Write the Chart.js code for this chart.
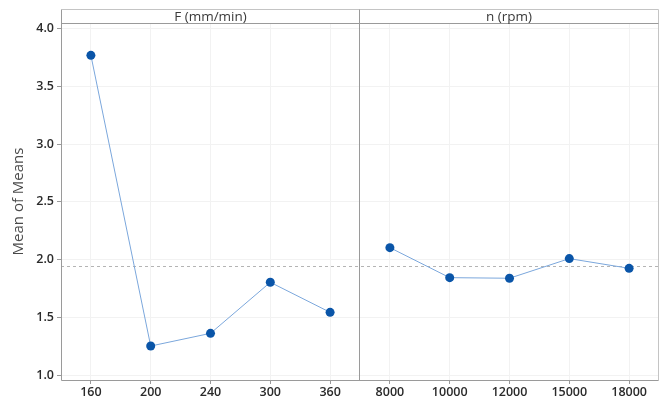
<!DOCTYPE html>
<html>
<head>
<meta charset="utf-8">
<script src="https://cdn.jsdelivr.net/npm/chart.js@4.4.1/dist/chart.umd.min.js"></script>
<style>
  html, body { margin: 0; padding: 0; background: #fff; }
  #wrap { width: 665px; height: 401px; }
</style>
</head>
<body>
<div id="wrap"><canvas id="chart" width="665" height="401"></canvas></div>
<script>
// factor levels, one panel each
const feedLevels = ['160', '200', '240', '300', '360'];
const speedLevels = ['8000', '10000', '12000', '15000', '18000'];
const feedMeans = [3.768, 1.251, 1.361, 1.803, 1.543];
const speedMeans = [2.103, 1.843, 1.838, 2.008, 1.924];
const panelTitles = ['F (mm/min)', 'n (rpm)'];
const grandMean = 1.945;

const FONT = '"Open Sans", "Noto Sans", sans-serif';

let labels = feedLevels.concat(speedLevels);
let feedData = feedMeans.concat(speedLevels.map(() => null));
let speedData = feedLevels.map(() => null).concat(speedMeans);

// header strip, panel frame, divider and reference line
let panelPlugin = {
    id: 'panels',
    beforeDatasetsDraw(chart) {
        let ctx = chart.ctx;
        let area = chart.chartArea;
        let y = chart.scales.y.getPixelForValue(grandMean);
        ctx.save();
        ctx.strokeStyle = '#b4b4b4';
        ctx.lineWidth = 1;
        ctx.setLineDash([3, 3]);
        ctx.beginPath();
        ctx.moveTo(area.left, Math.round(y) + 0.5);
        ctx.lineTo(area.right, Math.round(y) + 0.5);
        ctx.stroke();
        ctx.restore();
    },
    afterDraw(chart) {
        let ctx = chart.ctx;
        let area = chart.chartArea;
        let x = chart.scales.x;
        let headTop = 9.5;
        let mid = Math.round((x.getPixelForValue(4) + x.getPixelForValue(5)) / 2) - 0.5;
        let left = Math.round(area.left) + 0.5;
        let right = Math.round(area.right) - 0.5;
        let top = Math.round(area.top) + 0.5;
        let bottom = Math.round(area.bottom) + 0.5;
        ctx.save();
        ctx.lineWidth = 1;
        ctx.strokeStyle = '#c4c4c4';
        ctx.beginPath();
        ctx.moveTo(left, headTop);
        ctx.lineTo(right, headTop);
        ctx.lineTo(right, bottom);
        ctx.stroke();
        ctx.strokeStyle = '#9a9a9a';
        ctx.beginPath();
        ctx.moveTo(left, headTop);
        ctx.lineTo(left, bottom);
        ctx.lineTo(right, bottom);
        ctx.moveTo(left, top);
        ctx.lineTo(right, top);
        ctx.moveTo(mid, headTop);
        ctx.lineTo(mid, bottom);
        ctx.stroke();
        ctx.fillStyle = '#3a3a3a';
        ctx.font = '13.5px ' + FONT;
        ctx.textAlign = 'center';
        ctx.textBaseline = 'middle';
        ctx.fillText(panelTitles[0], (left + mid) / 2, (headTop + top) / 2 + 0.5);
        ctx.fillText(panelTitles[1], (mid + right) / 2, (headTop + top) / 2 + 0.5);
        ctx.restore();
    }
};

let lineStyle = {
    borderColor: '#7ba7dc',
    borderWidth: 1,
    pointBackgroundColor: '#0a55a8',
    pointBorderColor: '#0a55a8',
    pointRadius: 4.5,
    pointBorderWidth: 0,
    spanGaps: false,
    tension: 0
};

let ctx = document.getElementById('chart').getContext('2d');
let myChart = new Chart(ctx, {
    type: 'line',
    data: {
        labels: labels,
        datasets: [
            Object.assign({ label: 'F', data: feedData }, lineStyle),
            Object.assign({ label: 'n', data: speedData }, lineStyle)
        ]
    },
    options: {
        responsive: false,
        animation: false,
        layout: { padding: { top: 23, right: 6, bottom: 0, left: 0 } },
        plugins: {
            legend: { display: false },
            tooltip: { enabled: false }
        },
        scales: {
            x: {
                type: 'category',
                offset: true,
                border: { display: false },
                grid: { offset: false, color: '#f2f2f2', tickLength: 4, tickColor: '#9a9a9a' },
                ticks: { color: '#2a2a2a', font: { family: FONT, size: 12.5, weight: '600' }, padding: 1, maxRotation: 0, autoSkip: false },
                afterFit(scale) { scale.height = 21; }
            },
            y: {
                min: 0.957,
                max: 4.048,
                border: { display: false },
                grid: { color: '#f2f2f2', tickLength: 4, tickColor: '#9a9a9a' },
                ticks: {
                    stepSize: 0.5,
                    includeBounds: false,
                    color: '#2a2a2a',
                    font: { family: FONT, size: 12.5, weight: '600' },
                    padding: 3,
                    callback: (v) => v.toFixed(1)
                },
                title: {
                    display: true,
                    text: 'Mean of Means',
                    color: '#4a4a4a',
                    font: { family: FONT, size: 15 },
                    padding: { top: 10, bottom: 0 }
                },
                afterFit(scale) { scale.width = 61; }
            }
        }
    },
    plugins: [panelPlugin]
});
</script>
</body>
</html>
